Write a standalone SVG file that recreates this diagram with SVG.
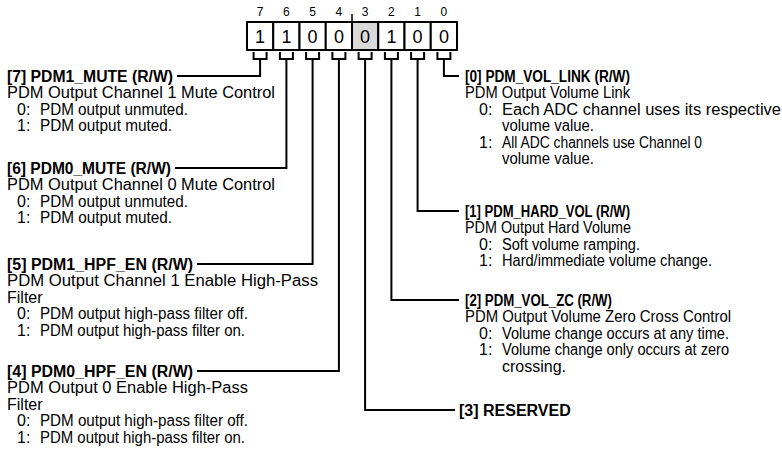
<svg xmlns="http://www.w3.org/2000/svg" width="782" height="466" viewBox="0 0 782 466">
<style>
text{font-family:"Liberation Sans",Arial,sans-serif;fill:#000}
.h{font-size:16px;font-weight:bold}
.t{font-size:16px}
.bn{font-size:12px;text-anchor:middle}
.bv{font-size:18px;text-anchor:middle}
.cell{fill:#fff;stroke:#000;stroke-width:2}
.gray{fill:#d9d9d9}
.c{fill:none;stroke:#000;stroke-width:2}
</style>
<rect width="782" height="466" fill="#fff"/>
<g id="register">
<rect class="cell" x="247" y="22" width="26.25" height="28"/>
<rect class="cell" x="273.25" y="22" width="26.25" height="28"/>
<rect class="cell" x="299.5" y="22" width="26.25" height="28"/>
<rect class="cell" x="325.75" y="22" width="26.25" height="28"/>
<rect class="cell gray" x="352" y="22" width="26.25" height="28"/>
<rect class="cell" x="378.25" y="22" width="26.25" height="28"/>
<rect class="cell" x="404.5" y="22" width="26.25" height="28"/>
<rect class="cell" x="430.75" y="22" width="26.25" height="28"/>
<line x1="352" y1="14" x2="352" y2="22" stroke="#000" stroke-width="1.5"/>
<text class="bn" x="260.1" y="16">7</text>
<text class="bn" x="286.4" y="16">6</text>
<text class="bn" x="312.6" y="16">5</text>
<text class="bn" x="338.9" y="16">4</text>
<text class="bn" x="365.1" y="16">3</text>
<text class="bn" x="391.4" y="16">2</text>
<text class="bn" x="417.6" y="16">1</text>
<text class="bn" x="443.9" y="16">0</text>
<text class="bv" x="260.1" y="43">1</text>
<text class="bv" x="286.4" y="43">1</text>
<text class="bv" x="312.6" y="43">0</text>
<text class="bv" x="338.9" y="43">0</text>
<text class="bv" x="365.1" y="43">0</text>
<text class="bv" x="391.4" y="43">1</text>
<text class="bv" x="417.6" y="43">0</text>
<text class="bv" x="443.9" y="43">0</text>
</g>
<g id="connectors">
<path class="c" d="M253.6,52V59H266.6V52M260.1,59V76H177"/>
<path class="c" d="M279.9,52V59H292.9V52M286.4,59V168H175"/>
<path class="c" d="M306.1,52V59H319.1V52M312.6,59V264H197"/>
<path class="c" d="M332.4,52V59H345.4V52M338.9,59V371H197"/>
<path class="c" d="M358.6,52V59H371.6V52M365.1,59V410H455"/>
<path class="c" d="M384.9,52V59H397.9V52M391.4,59V300H459"/>
<path class="c" d="M411.1,52V59H424.1V52M417.6,59V211H459"/>
<path class="c" d="M437.4,52V59H450.4V52M443.9,59V76H459"/>
</g>
<g id="field7">
<text class="h" x="7" y="81.5" textLength="166" lengthAdjust="spacingAndGlyphs">[7] PDM1_MUTE (R/W)</text>
<text class="t" x="7" y="98" textLength="268" lengthAdjust="spacingAndGlyphs">PDM Output Channel 1 Mute Control</text>
<text class="t" x="17" y="114.5">0:</text><text class="t" x="40" y="114.5" textLength="148" lengthAdjust="spacingAndGlyphs">PDM output unmuted.</text>
<text class="t" x="17" y="131">1:</text><text class="t" x="40" y="131" textLength="132" lengthAdjust="spacingAndGlyphs">PDM output muted.</text>
</g>
<g id="field6">
<text class="h" x="7" y="173.5" textLength="164" lengthAdjust="spacingAndGlyphs">[6] PDM0_MUTE (R/W)</text>
<text class="t" x="7" y="190" textLength="268" lengthAdjust="spacingAndGlyphs">PDM Output Channel 0 Mute Control</text>
<text class="t" x="17" y="206.5">0:</text><text class="t" x="40" y="206.5" textLength="148" lengthAdjust="spacingAndGlyphs">PDM output unmuted.</text>
<text class="t" x="17" y="223">1:</text><text class="t" x="40" y="223" textLength="132" lengthAdjust="spacingAndGlyphs">PDM output muted.</text>
</g>
<g id="field5">
<text class="h" x="7" y="269.5" textLength="186" lengthAdjust="spacingAndGlyphs">[5] PDM1_HPF_EN (R/W)</text>
<text class="t" x="7" y="286" textLength="311" lengthAdjust="spacingAndGlyphs">PDM Output Channel 1 Enable High-Pass</text>
<text class="t" x="7" y="302.5">Filter</text>
<text class="t" x="17" y="319">0:</text><text class="t" x="40" y="319" textLength="208" lengthAdjust="spacingAndGlyphs">PDM output high-pass filter off.</text>
<text class="t" x="17" y="335.5">1:</text><text class="t" x="40" y="335.5" textLength="205" lengthAdjust="spacingAndGlyphs">PDM output high-pass filter on.</text>
</g>
<g id="field4">
<text class="h" x="7" y="376.5" textLength="186" lengthAdjust="spacingAndGlyphs">[4] PDM0_HPF_EN (R/W)</text>
<text class="t" x="7" y="393" textLength="241" lengthAdjust="spacingAndGlyphs">PDM Output 0 Enable High-Pass</text>
<text class="t" x="7" y="409.5">Filter</text>
<text class="t" x="17" y="426">0:</text><text class="t" x="40" y="426" textLength="208" lengthAdjust="spacingAndGlyphs">PDM output high-pass filter off.</text>
<text class="t" x="17" y="442.5">1:</text><text class="t" x="40" y="442.5" textLength="205" lengthAdjust="spacingAndGlyphs">PDM output high-pass filter on.</text>
</g>
<g id="field0">
<text class="h" x="465" y="81.5" textLength="165" lengthAdjust="spacingAndGlyphs">[0] PDM_VOL_LINK (R/W)</text>
<text class="t" x="465" y="98" textLength="165" lengthAdjust="spacingAndGlyphs">PDM Output Volume Link</text>
<text class="t" x="479" y="114.5">0:</text><text class="t" x="502" y="114.5" textLength="279" lengthAdjust="spacingAndGlyphs">Each ADC channel uses its respective</text>
<text class="t" x="502" y="131" textLength="92" lengthAdjust="spacingAndGlyphs">volume value.</text>
<text class="t" x="479" y="147.5">1:</text><text class="t" x="502" y="147.5" textLength="200" lengthAdjust="spacingAndGlyphs">All ADC channels use Channel 0</text>
<text class="t" x="502" y="164" textLength="92" lengthAdjust="spacingAndGlyphs">volume value.</text>
</g>
<g id="field1">
<text class="h" x="465" y="216.5" textLength="165" lengthAdjust="spacingAndGlyphs">[1] PDM_HARD_VOL (R/W)</text>
<text class="t" x="465" y="233" textLength="166" lengthAdjust="spacingAndGlyphs">PDM Output Hard Volume</text>
<text class="t" x="479" y="249.5">0:</text><text class="t" x="502" y="249.5" textLength="138" lengthAdjust="spacingAndGlyphs">Soft volume ramping.</text>
<text class="t" x="479" y="266">1:</text><text class="t" x="502" y="266" textLength="210" lengthAdjust="spacingAndGlyphs">Hard/immediate volume change.</text>
</g>
<g id="field2">
<text class="h" x="465" y="305.5" textLength="147" lengthAdjust="spacingAndGlyphs">[2] PDM_VOL_ZC (R/W)</text>
<text class="t" x="465" y="322" textLength="266" lengthAdjust="spacingAndGlyphs">PDM Output Volume Zero Cross Control</text>
<text class="t" x="479" y="338.5">0:</text><text class="t" x="502" y="338.5" textLength="227" lengthAdjust="spacingAndGlyphs">Volume change occurs at any time.</text>
<text class="t" x="479" y="355">1:</text><text class="t" x="502" y="355" textLength="227" lengthAdjust="spacingAndGlyphs">Volume change only occurs at zero</text>
<text class="t" x="502" y="371.5">crossing.</text>
</g>
<g id="field3">
<text class="h" x="459" y="415.5">[3] RESERVED</text>
</g>
</svg>
